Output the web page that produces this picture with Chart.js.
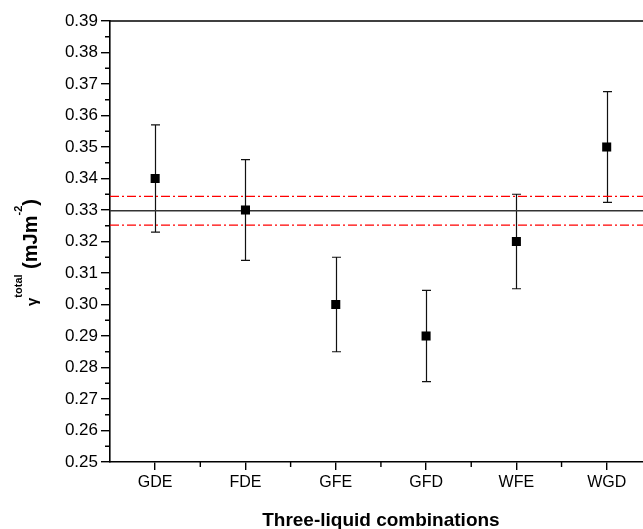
<!DOCTYPE html>
<html>
<head>
<meta charset="utf-8">
<script src="https://cdn.jsdelivr.net/npm/chart.js@4.4.1/dist/chart.umd.min.js"></script>
<style>
  html, body { margin: 0; padding: 0; background: #fff; }
  #wrap { width: 643px; height: 529px; }
</style>
</head>
<body>
<div id="wrap"><canvas id="c" width="643" height="529"></canvas></div>
<script>
// ---- data ----
const categories = ['GDE', 'FDE', 'GFE', 'GFD', 'WFE', 'WGD'];
const values     = [0.340, 0.330, 0.300, 0.290, 0.320, 0.350];
const errors     = [0.017, 0.016, 0.015, 0.0145, 0.015, 0.0176];
const meanValue  = 0.3298;
const upperBand  = 0.3343;
const lowerBand  = 0.3252;
const yTickMin = 0.25, yTickMax = 0.39, yStep = 0.01;
const xMin = 0.5, xMax = 6.402;

const FONT = '"Liberation Sans", Arial, Helvetica, sans-serif';

const points = categories.map((c, i) => ({ x: i + 1, y: values[i] }));

const decor = {
  id: 'decor',
  beforeDatasetsDraw(chart) {
    const { ctx, scales: { x, y } } = chart;
    ctx.save();
    ctx.strokeStyle = '#111';
    ctx.lineWidth = 1.2;
    points.forEach((p, i) => {
      const px = Math.round(x.getPixelForValue(p.x)) + 0.5;
      const top = y.getPixelForValue(p.y + errors[i]);
      const bot = y.getPixelForValue(p.y - errors[i]);
      ctx.beginPath();
      ctx.moveTo(px, top); ctx.lineTo(px, bot);
      ctx.moveTo(px - 4.5, top); ctx.lineTo(px + 4.5, top);
      ctx.moveTo(px - 4.5, bot); ctx.lineTo(px + 4.5, bot);
      ctx.stroke();
    });
    ctx.restore();
  },
  afterDraw(chart) {
    const { ctx, chartArea: a, scales: { x, y } } = chart;
    ctx.save();
    ctx.strokeStyle = '#000';
    ctx.lineWidth = 1.6;
    // top frame line
    ctx.beginPath();
    ctx.moveTo(a.left, a.top); ctx.lineTo(a.right, a.top);
    ctx.stroke();
    // minor ticks
    ctx.lineWidth = 1.4;
    ctx.beginPath();
    for (let k = 0; k < Math.round((yTickMax - yTickMin) / yStep); k++) {
      const v = yTickMin + (k + 0.5) * yStep;
      const py = y.getPixelForValue(v);
      ctx.moveTo(a.left - 5, py); ctx.lineTo(a.left, py);
    }
    for (let k = 1; k < categories.length; k++) {
      const px = x.getPixelForValue(k + 0.5);
      ctx.moveTo(px, a.bottom); ctx.lineTo(px, a.bottom + 5);
    }
    ctx.stroke();
    // x title
    ctx.fillStyle = '#000';
    ctx.font = 'bold 19px ' + FONT;
    ctx.textAlign = 'center';
    ctx.textBaseline = 'alphabetic';
    const cx = x.getPixelForValue(3.5);
    ctx.fillText('Three-liquid combinations', cx, 526);
    // y title with superscripts
    ctx.translate(37, 306);
    ctx.rotate(-Math.PI / 2);
    ctx.textAlign = 'left';
    const parts = [
      ['γ', 'bold 15px ', 0],
      ['total', 'bold 11px ', -15],
      [' (mJm', 'bold 20px ', 0],
      ['-2', 'bold 11px ', -15],
      [')', 'bold 20px ', 0]
    ];
    let tx = 0;
    parts.forEach(([t, f, dy]) => {
      ctx.font = f + FONT;
      ctx.fillText(t, tx, dy);
      tx += ctx.measureText(t).width;
    });
    ctx.restore();
  }
};

new Chart(document.getElementById('c'), {
  type: 'scatter',
  data: {
    datasets: [
      {
        label: 'mean',
        data: [{ x: xMin, y: meanValue }, { x: xMax, y: meanValue }],
        showLine: true, borderColor: '#333', borderWidth: 1.5,
        pointRadius: 0, order: 3
      },
      {
        label: 'upper',
        data: [{ x: xMin, y: upperBand }, { x: xMax, y: upperBand }],
        showLine: true, borderColor: '#ff0000', borderWidth: 1.3,
        borderDash: [9, 3, 2, 3], pointRadius: 0, order: 2
      },
      {
        label: 'lower',
        data: [{ x: xMin, y: lowerBand }, { x: xMax, y: lowerBand }],
        showLine: true, borderColor: '#ff0000', borderWidth: 1.3,
        borderDash: [9, 3, 2, 3], pointRadius: 0, order: 2
      },
      {
        label: 'gamma',
        data: points,
        pointStyle: 'rect', pointRadius: 6.4, pointHoverRadius: 6.4,
        backgroundColor: '#000', borderColor: '#000', borderWidth: 0,
        order: 1
      }
    ]
  },
  options: {
    responsive: false,
    animation: false,
    devicePixelRatio: 1,
    layout: { autoPadding: false, padding: { top: 21, left: 0, right: 0, bottom: 0 } },
    plugins: { legend: { display: false }, tooltip: { enabled: false }, title: { display: false } },
    scales: {
      x: {
        type: 'linear', min: xMin, max: xMax,
        afterBuildTicks: s => { s.ticks = categories.map((c, i) => ({ value: i + 1 })); },
        afterFit: s => { s.height = 67; },
        ticks: {
          callback: v => categories[Math.round(v) - 1] || '',
          color: '#000', font: { family: FONT, size: 16 }, padding: 3, maxRotation: 0, autoSkip: false
        },
        grid: { display: true, drawOnChartArea: false, drawTicks: true, tickLength: 8, color: '#000', lineWidth: 1.4 },
        border: { display: true, color: '#000', width: 1.6 }
      },
      y: {
        type: 'linear', min: yTickMin, max: yTickMax,
        afterFit: s => { s.width = 110; },
        ticks: {
          stepSize: yStep,
          callback: v => v.toFixed(2),
          color: '#000', font: { family: FONT, size: 17 }, padding: 3
        },
        grid: { display: true, drawOnChartArea: false, drawTicks: true, tickLength: 9, color: '#000', lineWidth: 1.4 },
        border: { display: true, color: '#000', width: 1.6 }
      }
    }
  },
  plugins: [decor]
});
</script>
</body>
</html>
